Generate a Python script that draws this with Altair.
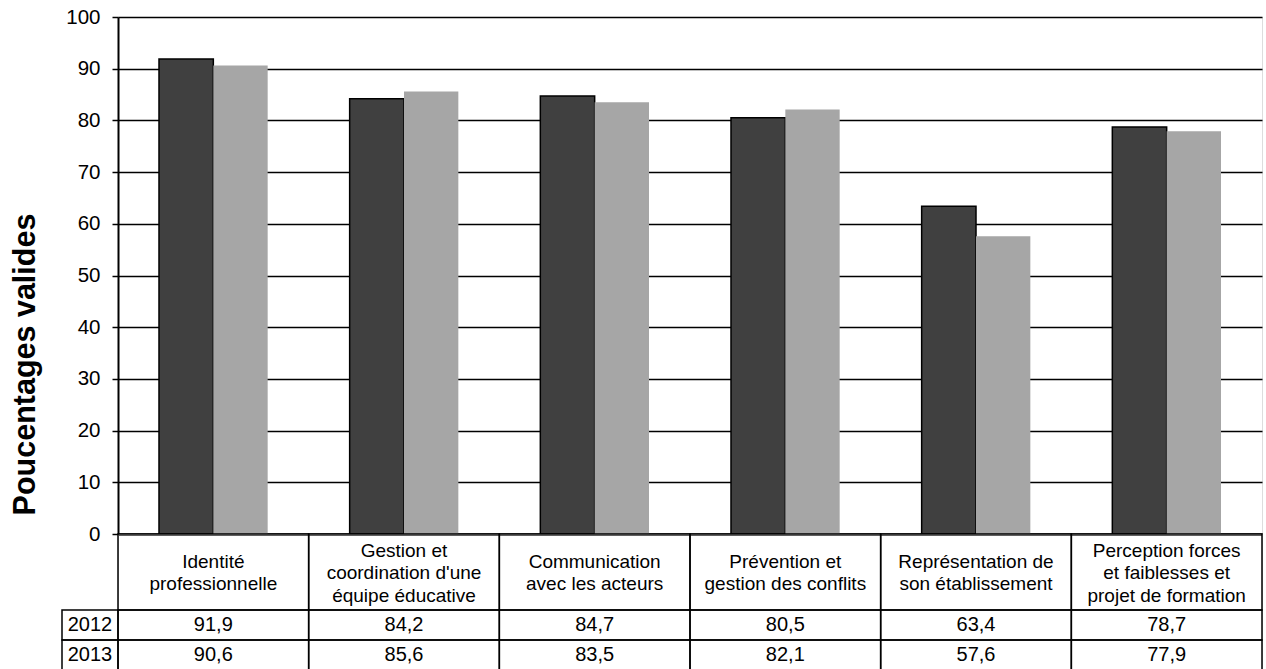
import altair as alt
import pandas as pd

# ---------------- data ----------------
categories = [
    "Identité\nprofessionnelle",
    "Gestion et\ncoordination d'une\néquipe éducative",
    "Communication\navec les acteurs",
    "Prévention et\ngestion des conflits",
    "Représentation de\nson établissement",
    "Perception forces\net faiblesses et\nprojet de formation",
]
years = ["2012", "2013"]
values_2012 = [91.9, 84.2, 84.7, 80.5, 63.4, 78.7]
values_2013 = [90.6, 85.6, 83.5, 82.1, 57.6, 77.9]
y_ticks = [0, 10, 20, 30, 40, 50, 60, 70, 80, 90, 100]
y_title = "Poucentages valides"
bar_colors = ["#404040", "#A6A6A6"]

FONT = "Liberation Sans"
PLOT_W = 1144
PLOT_H = 517
LINE_H = 22.5
# table row bands (top, bottom) in table units
row_bands = {"label": (0, 76), "2012": (76, 106), "2013": (106, 136)}
TABLE_H = 136

# ---------------- bar chart ----------------
rows = []
for c, a, b in zip(categories, values_2012, values_2013):
    rows.append({"cat": c, "year": "2012", "value": a})
    rows.append({"cat": c, "year": "2013", "value": b})
bars_df = pd.DataFrame(rows)

bars = alt.Chart(bars_df).mark_bar(strokeWidth=1.5).encode(
    x=alt.X("cat:N", sort=categories,
            scale=alt.Scale(paddingInner=0.43, paddingOuter=0.215),
            axis=alt.Axis(labels=False, ticks=False, title=None, grid=False,
                          domainColor="black", domainWidth=2)),
    xOffset=alt.XOffset("year:N", sort=years,
                        scale=alt.Scale(paddingInner=0, paddingOuter=0)),
    y=alt.Y("value:Q",
            scale=alt.Scale(domain=[0, 100], nice=False),
            axis=alt.Axis(values=y_ticks, title=y_title,
                          titleFont=FONT, titleFontSize=30.5, titleFontWeight="bold",
                          titleColor="black", titleAngle=270,
                          titleX=-93, titleY=347, titleAlign="center",
                          titleBaseline="middle",
                          labelFont=FONT, labelFontSize=20.5, labelColor="black",
                          labelPadding=12, tickSize=6, tickColor="black",
                          tickWidth=1.5, domainColor="black", domainWidth=2,
                          grid=True, gridColor="black", gridWidth=1.5)),
    color=alt.Color("year:N", scale=alt.Scale(domain=years, range=bar_colors),
                    legend=None),
    stroke=alt.Stroke("year:N", scale=alt.Scale(domain=years,
                                                range=["black", "transparent"]),
                      legend=None),
).properties(width=PLOT_W, height=PLOT_H)

# ---------------- data table ----------------
fmt = lambda v: f"{v:.1f}".replace(".", ",")
cells = []
for c, a, b in zip(categories, values_2012, values_2013):
    for key, txt in (("label", c), ("2012", fmt(a)), ("2013", fmt(b))):
        t, bt = row_bands[key]
        mid = (t + bt) / 2
        n = txt.count("\n") + 1
        cells.append({"cat": c, "top": t, "bot": bt, "mid": mid,
                      "ty": mid + 1 - (n - 1) * LINE_H / 2,
                      "text": txt, "row": key})
cells_df = pd.DataFrame(cells)

year_cells = []
for y in years:
    t, bt = row_bands[y]
    year_cells.append({"year": y, "top": t, "bot": bt, "mid": (t + bt) / 2})
year_df = pd.DataFrame(year_cells)

tx = alt.X("cat:N", sort=categories,
           scale=alt.Scale(paddingInner=0, paddingOuter=0), axis=None)
ty_scale = alt.Scale(domain=[0, TABLE_H], nice=False, reverse=True, zero=False)

cell_rects = alt.Chart(cells_df).mark_rect(
    fill="white", fillOpacity=0, stroke="black", strokeWidth=1.5
).encode(x=tx, y=alt.Y("top:Q", scale=ty_scale, axis=None), y2="bot:Q")

cell_text_lbl = alt.Chart(cells_df).transform_filter(
    alt.datum.row == "label"
).mark_text(font=FONT, fontSize=19, lineBreak="\n", lineHeight=LINE_H,
            baseline="middle", color="black").encode(
    x=tx, y=alt.Y("ty:Q", scale=ty_scale, axis=None), text="text:N")

cell_text_val = alt.Chart(cells_df).transform_filter(
    alt.datum.row != "label"
).mark_text(font=FONT, fontSize=20, baseline="middle", color="black").encode(
    x=tx, y=alt.Y("mid:Q", scale=ty_scale, axis=None), text="text:N")

year_rects = alt.Chart(year_df).mark_rect(
    fill="white", fillOpacity=0, stroke="black", strokeWidth=1.5
).encode(x=alt.value(-56), x2=alt.value(0),
         y=alt.Y("top:Q", scale=ty_scale, axis=None), y2="bot:Q")

year_text = alt.Chart(year_df).mark_text(
    font=FONT, fontSize=20, baseline="middle", color="black"
).encode(x=alt.value(-28), y=alt.Y("mid:Q", scale=ty_scale, axis=None),
         text="year:N")

table = alt.layer(cell_rects, cell_text_lbl, cell_text_val, year_rects,
                  year_text).properties(width=PLOT_W, height=TABLE_H)

chart = alt.vconcat(bars, table, spacing=0, bounds="flush").properties(
    padding={"left": 9, "top": 6, "right": 0, "bottom": 0}
).configure_view(stroke=None).configure(background="white")

chart.save("out.html", embed_options={"renderer": "svg", "actions": False})
